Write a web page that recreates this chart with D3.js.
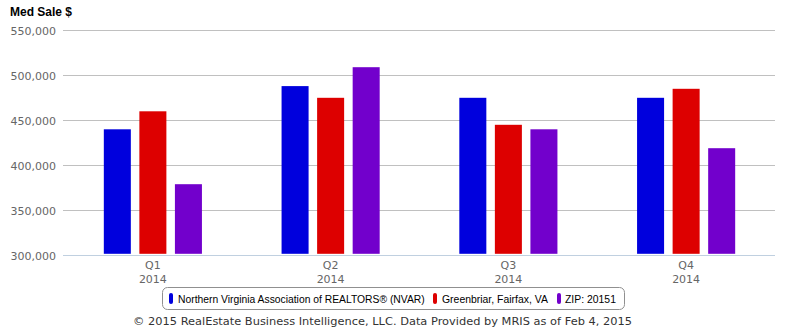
<!DOCTYPE html>
<html><head><meta charset="utf-8">
<script src="https://cdn.jsdelivr.net/npm/d3@7"></script>
<style>body{margin:0;background:#fff}svg{display:block}</style>
</head><body><svg id="c" width="785" height="330"></svg>
<script>
const categories = ["Q1", "Q2", "Q3", "Q4"];
const categoryYears = ["2014", "2014", "2014", "2014"];
const seriesNames = ["Northern Virginia Association of REALTORS® (NVAR)", "Greenbriar, Fairfax, VA", "ZIP: 20151"];
const nvar = [440000, 488000, 475000, 475000];
const greenbriar = [460000, 475000, 445000, 485000];
const zip20151 = [379000, 509000, 440000, 419000];
const seriesColors = ["#0000DD", "#DD0000", "#7200CC"];
const yTicks = [300000, 350000, 400000, 450000, 500000, 550000];
const title = "Med Sale $";
const footer = "© 2015 RealEstate Business Intelligence, LLC. Data Provided by MRIS as of Feb 4, 2015";

const seriesValues = [nvar, greenbriar, zip20151];
const svg = d3.select("#c");
const plotLeft = 63, plotRight = 775, plotTop = 30.3, plotBottom = 255.3;

const y = d3.scaleLinear().domain([300000, 550000]).range([plotBottom, plotTop]);
const x0 = d3.scaleBand().domain(categories).range([plotLeft + 1, plotRight]).padding(0);
const bw = x0.bandwidth();
const x1 = d3.scaleBand().domain(d3.range(3)).range([0.2 * bw, 0.8 * bw]).paddingInner(0.24).paddingOuter(0.12);

// gridlines
svg.append("g").selectAll("line").data(yTicks.slice(1)).join("line")
  .attr("x1", plotLeft).attr("x2", plotRight)
  .attr("y1", d => Math.round(y(d)) + 0.5).attr("y2", d => Math.round(y(d)) + 0.5)
  .attr("stroke", "#C0C0C0").attr("stroke-width", 1);

// y labels
svg.append("g").selectAll("text").data(yTicks).join("text")
  .attr("x", 56).attr("y", d => y(d) + 5)
  .attr("text-anchor", "end")
  .attr("font-family", "DejaVu Sans, sans-serif").attr("font-size", 11)
  .attr("fill", "#666").text(d => d3.format(",")(d));

// bars
categories.forEach((c, ci) => {
  seriesValues.forEach((vals, si) => {
    svg.append("rect")
      .attr("x", x0(c) + x1(si))
      .attr("width", x1.bandwidth())
      .attr("y", y(vals[ci]))
      .attr("height", y(300000) - 1.5 - y(vals[ci]))
      .attr("fill", seriesColors[si]);
  });
});

// x axis line
svg.append("line").attr("x1", plotLeft).attr("x2", plotRight)
  .attr("y1", Math.round(plotBottom) + 0.5).attr("y2", Math.round(plotBottom) + 0.5)
  .attr("stroke", "#C0D0E0").attr("stroke-width", 1);

// x labels
const xl = svg.append("g");
categories.forEach((c, i) => {
  const cx = x0(c) + bw / 2;
  xl.append("text").attr("x", cx).attr("y", 268.5).attr("text-anchor", "middle")
    .attr("font-family", "DejaVu Sans, sans-serif").attr("font-size", 11).attr("fill", "#666").text(c);
  xl.append("text").attr("x", cx).attr("y", 283).attr("text-anchor", "middle")
    .attr("font-family", "DejaVu Sans, sans-serif").attr("font-size", 11).attr("fill", "#666").text(categoryYears[i]);
});

// title
svg.append("text").attr("x", 10).attr("y", 15.5)
  .attr("font-family", "Liberation Sans, Arial, sans-serif").attr("font-weight", "bold")
  .attr("font-size", 12).attr("fill", "#000").text(title);

// legend
svg.append("rect").attr("x", 162.5).attr("y", 287.5).attr("width", 462).attr("height", 22)
  .attr("rx", 5).attr("fill", "#fff").attr("stroke", "#909090").attr("stroke-width", 1);
const legX = [169, 433, 557];
const legTextX = [178, 442, 565];
const legW = [247, 106, 51];
seriesNames.forEach((n, i) => {
  svg.append("rect").attr("x", legX[i]).attr("y", 293).attr("width", 4).attr("height", 11)
    .attr("rx", 2).attr("fill", seriesColors[i]);
  const t = svg.append("text").attr("x", legTextX[i]).attr("y", 303)
    .attr("font-family", "Liberation Sans Narrow, Liberation Sans, Arial, sans-serif")
    .attr("font-size", 12).attr("fill", "#000")
    .text(n);
  const natural = t.node().getComputedTextLength();
  const fs = 12 * legW[i] / natural;
  if (fs < 11) {
    // keep height near 12px, squeeze horizontally
    t.attr("font-size", 11.5);
    const nat2 = t.node().getComputedTextLength();
    t.attr("transform", `translate(${legTextX[i]},303) scale(${legW[i] / nat2},1) translate(${-legTextX[i]},-303)`);
  } else {
    t.attr("font-size", fs);
  }
});

// footer
svg.append("text").attr("x", 382.5).attr("y", 325).attr("text-anchor", "middle")
  .attr("font-family", "DejaVu Sans, sans-serif").attr("font-size", 11).attr("fill", "#333")
  .attr("textLength", 499).attr("lengthAdjust", "spacingAndGlyphs")
  .text(footer);
</script></body></html>
